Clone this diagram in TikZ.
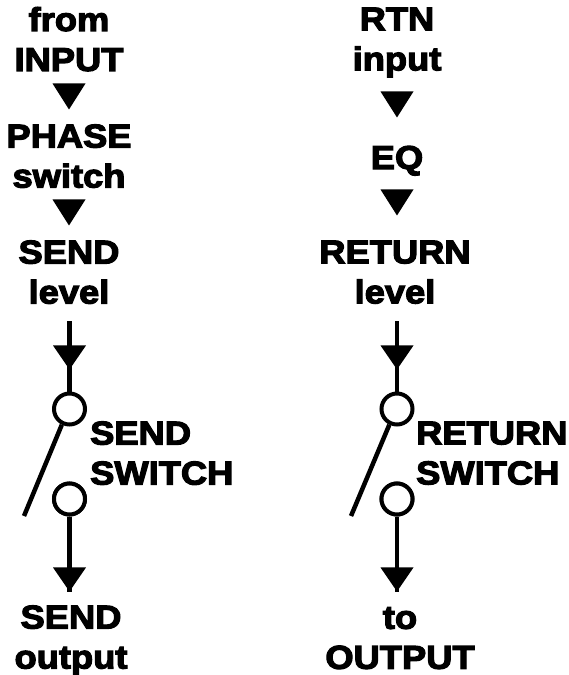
\documentclass[tikz,border=0pt]{standalone}
\usepackage{fontspec}
\usetikzlibrary{shapes.geometric}
\setmainfont[BoldFeatures={FakeBold=3.6,FakeStretch=1.1}]{Liberation Sans}
\newcommand{\lbl}{\fontsize{33}{40}\bfseries\selectfont}
\newcommand{\lnst}{\rule[-8pt]{0pt}{34pt}}
\begin{document}
\begin{tikzpicture}[x=1pt,y=-1pt,every node/.style = {align=center, inner sep=0pt, font=\lbl},txt/.style = {execute at begin node=\lnst, execute at end node=\lnst},tri/.style = {fill=black, isosceles triangle, isosceles triangle stretches, shape border rotate=-90, minimum height=24pt, minimum width=33pt, anchor=apex},tall/.style = {tri, minimum height=26pt},cont/.style = {draw, circle, line width=4pt, minimum size=31pt, fill=white},wire/.style = {line width=4.5pt}]
\useasboundingbox (0,0) rectangle (568,675);
% left column
\node[txt](fromin) at (69,43) {from\\INPUT};
\node[tall](ltri1) at (69,110) {};
\node[txt](phase) at (69,160) {PHASE\\switch};
\node[tall](ltri2) at (69,226) {};
\node[txt](sendlev) at (69,276) {SEND\\level};
\coordinate(sendtop) at (69.5,321);
\node[cont](sendup) at (69.5,409) {};
\node[cont](senddn) at (69.5,499) {};
\coordinate(sendend) at (24,516);
\node[tri](ltri3) at (69.5,370) {};
\node[tri](ltri4) at (69.5,592) {};
\draw[wire] (sendtop) -- (sendup);
\draw[wire] (sendup.-116) -- (sendend);
\draw[wire] (senddn) -- (ltri4.apex);
\node[cont] at (senddn) {};
\node[txt,anchor=west,align=left](sendsw) at (90,457) {SEND\\SWITCH};
\node[txt](sendout) at (71,641) {SEND\\output};
% right column
\node[txt](rtnin) at (397,43) {RTN\\input};
\node[tall](rtri1) at (397,118) {};
\node[txt](eq) at (397,160) {EQ};
\node[tall](rtri2) at (397,216) {};
\node[txt](retlev) at (395,276) {RETURN\\level};
\coordinate(rettop) at (397,321);
\node[cont](retup) at (397,409) {};
\node[cont](retdn) at (397,499) {};
\coordinate(retend) at (351,516);
\node[tri](rtri3) at (397,370) {};
\node[tri](rtri4) at (397,592) {};
\draw[wire] (rettop) -- (retup);
\draw[wire] (retup.-116) -- (retend);
\draw[wire] (retdn) -- (rtri4.apex);
\node[cont] at (retdn) {};
\node[txt,anchor=west,align=left](retsw) at (416,457) {RETURN\\SWITCH};
\node[txt](retout) at (400,642) {to\\OUTPUT};
\end{tikzpicture}
\end{document}
